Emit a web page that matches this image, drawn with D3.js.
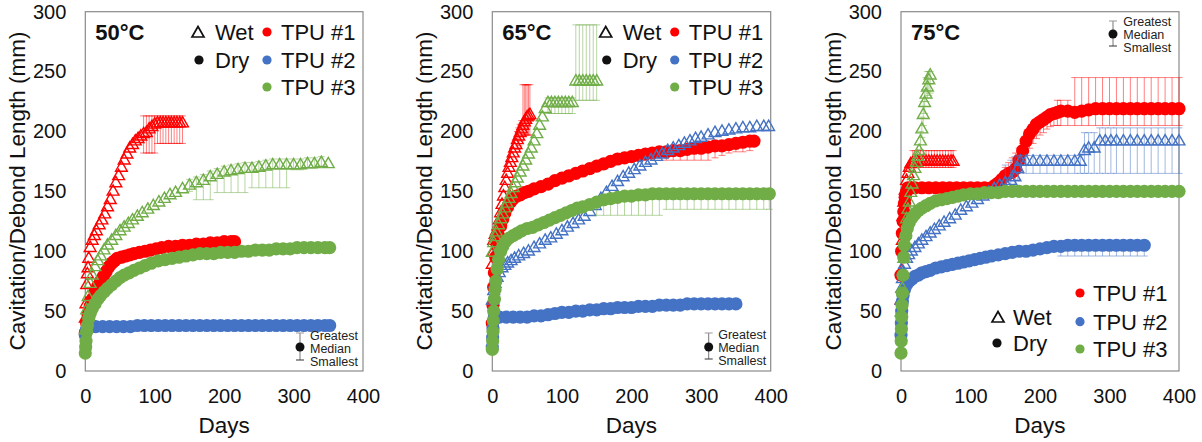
<!DOCTYPE html>
<html>
<head>
<meta charset="utf-8">
<script src="https://cdn.jsdelivr.net/npm/d3@7"></script>
<style>
  html, body { margin: 0; padding: 0; background: #fff; }
  svg { display: block; }
</style>
</head>
<body>
<svg id="chart" width="1202" height="442"></svg>
<script>
// ---------------------------------------------------------------
// Cavitation / debond length of three TPU grades aged wet and dry
// at 50, 65 and 75 °C. Markers show the median specimen; error
// bars span the greatest and smallest specimen where they are wider
// than the marker.
// ---------------------------------------------------------------

const yTicks = [0, 50, 100, 150, 200, 250, 300];
const xTicks = [0, 100, 200, 300, 400];
const tpuNames = ["TPU #1", "TPU #2", "TPU #3"];
const conditionNames = ["Wet", "Dry"];
const rangeNames = ["Greatest", "Median", "Smallest"];
const panelTitles = ["50°C", "65°C", "75°C"];

// ----- 50 °C -----
const d50_tpu1_wet_days = [0,1,2,3,4,5,7,10,13,16,20,24,28,32,36,40,44,48,52,56,60,64,68,72,76,80,84,88,92,96,100,104,108,112,116,120,124,128,132,136,140];
const d50_tpu1_wet_median = [45,57,73,82,87,95,104,110,114,118,123,127,132,138,144,151,158,164,171,177,182,187,190,193,195,197,199,200,203,205,207,208,208,208,208,208,208,208,208,208,208];
const d50_tpu1_wet_errDays = [84,88,92,96,100,104,108,112,116,120,124,128,132,136,140];
const d50_tpu1_wet_greatest = [213,213,213,213,213,213,213,213,213,213,213,213,213,213,213];
const d50_tpu1_wet_smallest = [182,182,182,182,182,190,190,190,190,190,190,190,190,190,190];

const d50_tpu1_dry_days = [0,2,4,7,10,14,18,22,26,30,34,38,42,46,52,58,64,70,78,86,94,102,110,120,130,140,150,160,170,180,190,200,210,215];
const d50_tpu1_dry_median = [32,40,47,54,60,66,71,75,79,83,87,90,92,94,95,96,97,98,99,100,101,102,103,104,104,105,105,106,106,107,107,108,108,108];

const d50_tpu2_dry_days = [0,1,2,4,8,15,25,35,45,55,65,75,85,95,105,115,125,135,145,155,165,175,185,195,205,215,225,235,245,255,265,275,285,295,305,315,325,335,345,352];
const d50_tpu2_dry_median = [30,33,35,36,37,37,37,37,37,37,37,38,38,38,38,38,38,38,38,38,38,38,38,38,38,38,38,38,38,38,38,38,38,38,38,38,38,38,38,38];

const d50_tpu3_wet_days = [0,2,4,7,10,14,18,22,27,32,38,44,50,56,62,68,75,82,90,98,106,114,122,130,140,150,160,170,180,190,200,210,220,230,240,250,260,270,280,290,300,310,320,330,340,350];
const d50_tpu3_wet_median = [35,52,63,74,81,88,93,97,102,106,110,114,118,121,124,127,130,133,136,139,142,145,148,150,153,156,158,160,163,165,167,168,169,170,170,171,172,173,173,173,173,173,174,174,175,174];
const d50_tpu3_wet_errDays = [150,160,170,180,190,200,210,220,230,240,250,260,270,280,290,300,310,320,330,340];
const d50_tpu3_wet_greatest = [160,162,164,167,169,171,172,173,174,174,175,176,177,177,177,177,177,178,178,179];
const d50_tpu3_wet_smallest = [150,143,143,143,149,149,149,149,149,153,153,153,153,153,153,168,168,169,169,170];

const d50_tpu3_dry_days = [0,0.5,1,2,3,5,7,10,14,18,22,27,32,38,44,50,56,63,70,78,86,95,105,115,125,135,145,155,165,175,185,195,205,215,225,235,245,255,265,275,285,295,305,315,325,335,345,352];
const d50_tpu3_dry_median = [15,20,25,33,38,44,48,52,56,60,63,66,69,72,75,78,80,82,84,86,88,90,92,93,94,95,96,97,98,98,98,99,99,99,100,100,101,101,101,102,102,102,103,103,103,103,103,103];

// ----- 65 °C -----
const d65_tpu1_wet_days = [0,1,2,4,6,8,10,12,14,16,18,20,22,24,26,28,30,32,34,36,38,40,42,44,46,48,50,52,54];
const d65_tpu1_wet_median = [90,100,110,115,118,122,127,133,140,147,154,160,166,171,175,179,183,187,190,194,197,200,203,206,209,211,213,214,215];
const d65_tpu1_wet_errDays = [36,38,40,42,44,46,48,50,52,54];
const d65_tpu1_wet_greatest = [200,203,206,209,239,239,239,239,239,239];
const d65_tpu1_wet_smallest = [185,188,192,196,197,197,197,197,197,197];

const d65_tpu1_dry_days = [0,1,2,3,5,7,9,12,15,18,22,26,30,35,40,46,52,60,70,80,90,100,110,120,130,140,150,160,170,180,190,200,210,220,230,240,250,260,270,280,290,300,310,320,330,340,350,360,370,376];
const d65_tpu1_dry_median = [40,55,70,82,95,105,113,121,127,132,137,141,144,146,147,149,150,152,154,156,159,161,163,165,167,169,171,173,175,177,178,179,180,181,182,183,183,184,184,185,186,186,187,188,188,189,190,191,192,192];
const d65_tpu1_dry_errDays = [250,260,270,280,290,300,310,320,330,340,350,360,370];
const d65_tpu1_dry_greatest = [186,187,187,188,189,189,190,191,191,192,193,194,195];
const d65_tpu1_dry_smallest = [176,176,176,176,176,176,176,178,180,182,183,183,184];

const d65_tpu2_wet_days = [0,2,4,7,10,14,18,22,27,32,38,45,52,60,68,76,84,92,100,108,116,124,132,140,148,156,164,172,180,188,196,204,212,220,228,236,244,252,260,268,276,284,292,300,310,320,330,340,350,360,370,380,390,397];
const d65_tpu2_wet_median = [60,68,74,79,83,87,89,91,93,95,97,99,101,104,107,110,112,115,118,121,124,127,130,134,139,145,150,155,159,163,166,169,172,175,177,180,182,185,187,189,191,193,195,196,198,200,201,202,203,204,204,205,205,205];

const d65_tpu2_dry_days = [0,0.5,1,2,3,10,20,30,40,50,60,70,80,90,100,110,120,130,140,150,160,170,180,190,200,210,220,230,240,250,260,270,280,290,300,310,320,330,340,350];
const d65_tpu2_dry_median = [20,28,36,42,45,45,45,45,45,45,46,46,47,48,49,49,50,50,51,51,52,52,53,53,53,54,54,54,55,55,55,55,56,56,56,56,56,56,56,56];

const d65_tpu3_wet_days = [0,2,4,6,9,12,15,18,21,24,27,30,33,36,40,44,48,52,56,60,64,68,72,76,80,85,90,95,100,105,110,115,120,125,130,135,140,145,150];
const d65_tpu3_wet_median = [100,108,113,117,123,128,132,137,141,145,149,154,158,162,167,172,177,182,187,193,199,206,213,220,225,225,225,225,225,225,225,225,243,243,243,243,243,243,243];
const d65_tpu3_wet_errDays = [80,85,90,95,100,105,110,115,120,125,130,135,140,145,150];
const d65_tpu3_wet_greatest = [228,228,228,228,228,228,228,228,289,289,289,289,289,289,289];
const d65_tpu3_wet_smallest = [215,215,215,215,215,215,215,215,226,226,226,226,226,226,226];

const d65_tpu3_dry_days = [0,0.5,1,1.5,2,3,4,5,7,9,12,15,19,24,30,36,42,50,58,66,74,82,90,98,106,114,122,130,140,150,160,170,180,190,200,210,220,230,240,250,260,270,280,290,300,310,320,330,340,350,360,370,380,390,398];
const d65_tpu3_dry_median = [18,25,33,42,50,60,68,75,85,93,100,104,108,111,113,115,117,119,120,122,124,126,128,130,132,134,136,137,139,141,143,144,145,146,146,147,147,148,148,148,148,148,148,148,148,148,148,148,148,148,148,148,148,148,148];
const d65_tpu3_dry_errDays = [150,160,170,180,190,200,210,220,230,240,250,260,270,280,290,300,310,320,330,340,350,360,370,380,390,398];
const d65_tpu3_dry_greatest = [144,146,147,148,149,149,150,150,151,151,151,151,151,151,151,151,151,151,151,151,151,151,151,151,151,151];
const d65_tpu3_dry_smallest = [130,130,130,130,130,130,130,130,130,130,135,135,135,135,135,135,135,135,135,135,135,135,135,135,135,135];

// ----- 75 °C -----
const d75_tpu1_wet_days = [0,1,2,3,4,6,8,10,12,14,17,20,24,28,32,36,40,44,48,52,56,60,64,68,72,75];
const d75_tpu1_wet_median = [60,85,110,130,142,152,160,166,171,174,175,176,176,176,176,176,176,176,176,176,176,176,176,176,176,176];
const d75_tpu1_wet_errDays = [17,20,24,28,32,36,40,44,48,52,56,60,64,68,72,75];
const d75_tpu1_wet_greatest = [184,184,184,184,184,184,184,184,184,184,184,184,184,184,184,184];
const d75_tpu1_wet_smallest = [170,170,170,170,170,170,170,170,170,170,170,170,170,170,170,170];

const d75_tpu1_dry_days = [0,1,2,3,4,5,6,8,10,15,20,30,40,50,60,70,80,90,100,110,120,130,135,140,145,150,155,160,165,170,175,180,185,190,195,200,205,210,215,220,225,230,240,250,260,270,280,290,300,310,320,330,340,350,360,370,380,390,400];
const d75_tpu1_dry_median = [80,100,115,125,133,140,145,150,153,153,153,153,153,153,153,153,153,153,153,153,153,153,155,157,160,163,165,166,169,176,184,192,198,202,206,208,210,212,214,215,216,217,217,216,217,218,219,219,219,219,219,219,219,219,219,219,219,219,219];
const d75_tpu1_dry_errDays = [150,155,160,165,170,175,180,185,190,195,200,205,210,215,220,225,230,240,250,260,270,280,290,300,310,320,330,340,350,360,370,380,390,400];
const d75_tpu1_dry_greatest = [170,174,178,182,186,190,194,198,202,206,210,212,215,217,219,226,226,226,245,245,245,245,245,245,245,245,245,245,245,245,245,245,245,245];
const d75_tpu1_dry_smallest = [158,160,161,163,168,174,180,186,190,194,197,199,202,204,205,205,205,205,205,205,205,205,205,205,205,205,205,205,205,205,205,205,205,205];

const d75_tpu2_wet_days = [0,1,2,3,5,8,11,15,20,25,30,36,42,48,55,62,70,78,86,94,102,110,118,126,134,142,150,158,164,168,172,180,190,200,210,220,230,240,250,258,264,270,278,286,294,302,310,320,330,340,350,360,370,380,390,400];
const d75_tpu2_wet_median = [60,70,78,84,90,95,98,101,104,107,110,113,116,119,122,125,128,131,135,138,141,144,147,150,153,156,158,160,163,170,176,176,176,176,176,176,176,176,176,176,185,187,187,193,193,193,193,193,193,193,193,193,193,193,193,193];
const d75_tpu2_wet_errDays = [150,158,164,168,172,180,190,200,210,220,230,240,250,258,264,270,278,286,294,302,310,320,330,340,350,360,370,380,390,400];
const d75_tpu2_wet_greatest = [172,176,179,180,180,180,180,180,180,180,180,180,180,180,199,199,199,203,203,203,203,203,203,203,203,203,203,203,203,203];
const d75_tpu2_wet_smallest = [150,152,155,160,165,165,165,165,165,165,165,165,165,165,165,165,165,165,165,165,165,165,165,165,165,165,165,165,165,165];

const d75_tpu2_dry_days = [0,0.5,1,2,3,5,8,12,16,20,25,30,36,42,50,58,66,74,82,90,98,106,114,122,130,140,150,160,170,180,190,200,210,220,230,240,250,260,270,280,290,300,310,320,330,340,350];
const d75_tpu2_dry_median = [30,40,50,58,63,68,72,75,77,79,80,82,83,84,86,87,88,89,90,91,92,93,94,95,96,97,98,99,100,100,101,102,103,104,104,105,105,105,105,105,105,105,105,105,105,105,105];
const d75_tpu2_dry_errDays = [230,240,250,260,270,280,290,300,310,320,330,340,350];
const d75_tpu2_dry_greatest = [107,107,107,107,107,107,107,107,107,107,107,107,107];
const d75_tpu2_dry_smallest = [96,96,96,96,96,96,96,96,96,96,96,96,96];

const d75_tpu3_wet_days = [0,2,4,6,8,10,12,14,16,18,20,22,24,26,28,30,32,34,36,38,40,42];
const d75_tpu3_wet_median = [50,70,95,115,128,136,142,150,157,164,170,175,180,185,193,203,215,225,232,238,244,248];
const d75_tpu3_wet_errDays = [28,30,32,34,36,38,40,42];
const d75_tpu3_wet_greatest = [200,212,225,235,245,250,250,250];
const d75_tpu3_wet_smallest = [185,195,205,215,225,228,230,232];

const d75_tpu3_dry_days = [0,0.3,0.6,1,1.5,2,3,4,5,7,9,12,16,20,25,30,36,42,50,58,66,74,82,90,100,110,120,130,140,150,160,170,180,190,200,210,220,230,240,250,260,270,280,290,300,310,320,330,340,350,360,370,380,390,400];
const d75_tpu3_dry_median = [15,25,35,45,55,65,80,95,105,113,119,124,128,131,134,136,138,140,142,143,144,145,146,147,148,148,149,149,149,150,150,150,150,150,150,150,150,150,150,150,150,150,150,150,150,150,150,150,150,150,150,150,150,150,150];

// ---------------------------------------------------------------
const FONT = '"Liberation Sans", Arial, Helvetica, sans-serif';
const COLORS = { 1: "#FF0000", 2: "#4472C4", 3: "#70AD47" };
const PLOT_TOP = 11.7, PLOT_BOTTOM = 371;
const TRI = "M0,-5.3 L5.9,5 L-5.9,5 Z";

function series(tpu, type, days, median, errDays, greatest, smallest) {
  return { tpu, type, days, median, errDays, greatest, smallest };
}

const panels = [
  {
    title: panelTitles[0], left: 85.3, right: 363, legend: "top",
    note: { dotDx: -63, dotY: 347, capTop: 333, capBottom: 360, textDx: -53, rows: [335, 348, 361.5] },
    series: [
      series(1, "wet", d50_tpu1_wet_days, d50_tpu1_wet_median, d50_tpu1_wet_errDays, d50_tpu1_wet_greatest, d50_tpu1_wet_smallest),
      series(1, "dry", d50_tpu1_dry_days, d50_tpu1_dry_median),
      series(2, "dry", d50_tpu2_dry_days, d50_tpu2_dry_median),
      series(3, "wet", d50_tpu3_wet_days, d50_tpu3_wet_median, d50_tpu3_wet_errDays, d50_tpu3_wet_greatest, d50_tpu3_wet_smallest),
      series(3, "dry", d50_tpu3_dry_days, d50_tpu3_dry_median)
    ]
  },
  {
    title: panelTitles[1], left: 492.3, right: 770.7, legend: "top",
    note: { dotDx: -62, dotY: 347, capTop: 333, capBottom: 359, textDx: -52.5, rows: [334, 347, 360] },
    series: [
      series(1, "wet", d65_tpu1_wet_days, d65_tpu1_wet_median, d65_tpu1_wet_errDays, d65_tpu1_wet_greatest, d65_tpu1_wet_smallest),
      series(1, "dry", d65_tpu1_dry_days, d65_tpu1_dry_median, d65_tpu1_dry_errDays, d65_tpu1_dry_greatest, d65_tpu1_dry_smallest),
      series(2, "wet", d65_tpu2_wet_days, d65_tpu2_wet_median),
      series(2, "dry", d65_tpu2_dry_days, d65_tpu2_dry_median),
      series(3, "wet", d65_tpu3_wet_days, d65_tpu3_wet_median, d65_tpu3_wet_errDays, d65_tpu3_wet_greatest, d65_tpu3_wet_smallest),
      series(3, "dry", d65_tpu3_dry_days, d65_tpu3_dry_median, d65_tpu3_dry_errDays, d65_tpu3_dry_greatest, d65_tpu3_dry_smallest)
    ]
  },
  {
    title: panelTitles[2], left: 901, right: 1179, legend: "bottom",
    note: { dotDx: -66, dotY: 34, capTop: 21, capBottom: 46, textDx: -55.7, rows: [21, 34, 47] },
    series: [
      series(1, "wet", d75_tpu1_wet_days, d75_tpu1_wet_median, d75_tpu1_wet_errDays, d75_tpu1_wet_greatest, d75_tpu1_wet_smallest),
      series(1, "dry", d75_tpu1_dry_days, d75_tpu1_dry_median, d75_tpu1_dry_errDays, d75_tpu1_dry_greatest, d75_tpu1_dry_smallest),
      series(2, "wet", d75_tpu2_wet_days, d75_tpu2_wet_median, d75_tpu2_wet_errDays, d75_tpu2_wet_greatest, d75_tpu2_wet_smallest),
      series(2, "dry", d75_tpu2_dry_days, d75_tpu2_dry_median, d75_tpu2_dry_errDays, d75_tpu2_dry_greatest, d75_tpu2_dry_smallest),
      series(3, "wet", d75_tpu3_wet_days, d75_tpu3_wet_median, d75_tpu3_wet_errDays, d75_tpu3_wet_greatest, d75_tpu3_wet_smallest),
      series(3, "dry", d75_tpu3_dry_days, d75_tpu3_dry_median)
    ]
  }
];

const svg = d3.select("#chart").attr("font-family", FONT);

panels.forEach(p => {
  const x = d3.scaleLinear().domain([0, 400]).range([p.left, p.right]);
  const y = d3.scaleLinear().domain([0, 300]).range([PLOT_BOTTOM, PLOT_TOP]);
  const g = svg.append("g");

  // plot frame
  g.append("rect")
    .attr("x", p.left).attr("y", PLOT_TOP)
    .attr("width", p.right - p.left).attr("height", PLOT_BOTTOM - PLOT_TOP)
    .attr("fill", "none").attr("stroke", "#8a8a8a").attr("stroke-width", 1.2);

  // axes (labels only, no ticks or domain line)
  const yAxis = g.append("g").attr("transform", `translate(${p.left},0)`)
    .call(d3.axisLeft(y).tickValues(yTicks).tickSize(0).tickPadding(19));
  const xAxis = g.append("g").attr("transform", `translate(0,${PLOT_BOTTOM})`)
    .call(d3.axisBottom(x).tickValues(xTicks).tickSize(0).tickPadding(17.5));
  [yAxis, xAxis].forEach(a => {
    a.select(".domain").remove();
    a.attr("font-size", 20).attr("font-family", FONT);
    a.selectAll("text").attr("fill", "#111");
  });

  // axis titles
  g.append("text")
    .attr("transform", `translate(${p.left - 60},191) rotate(-90)`)
    .attr("text-anchor", "middle").attr("font-size", 22.5).attr("fill", "#111")
    .text("Cavitation/Debond Length (mm)");
  g.append("text")
    .attr("x", (p.left + p.right) / 2).attr("y", 433)
    .attr("text-anchor", "middle").attr("font-size", 22.5).attr("fill", "#111")
    .text("Days");

  // data series
  p.series.forEach(s => {
    const col = COLORS[s.tpu];
    const sg = g.append("g");
    if (s.errDays) {
      const bars = s.errDays.map((d, i) => ({ d, hi: s.greatest[i], lo: s.smallest[i] }));
      const eg = sg.append("g").attr("stroke", col).attr("stroke-opacity", 0.5).attr("stroke-width", 1);
      eg.selectAll("line.v").data(bars).join("line").attr("class", "v")
        .attr("x1", b => x(b.d)).attr("x2", b => x(b.d))
        .attr("y1", b => y(b.hi)).attr("y2", b => y(b.lo));
      eg.selectAll("line.hi").data(bars).join("line").attr("class", "hi")
        .attr("x1", b => x(b.d) - 3.5).attr("x2", b => x(b.d) + 3.5)
        .attr("y1", b => y(b.hi)).attr("y2", b => y(b.hi));
      eg.selectAll("line.lo").data(bars).join("line").attr("class", "lo")
        .attr("x1", b => x(b.d) - 3.5).attr("x2", b => x(b.d) + 3.5)
        .attr("y1", b => y(b.lo)).attr("y2", b => y(b.lo));
    }
    const pts = s.days.map((d, i) => ({ d, v: s.median[i] }));
    if (s.type === "dry") {
      sg.selectAll("circle").data(pts).join("circle")
        .attr("cx", q => x(q.d)).attr("cy", q => y(q.v)).attr("r", 6.6)
        .attr("fill", col);
    } else {
      sg.selectAll("path").data(pts).join("path")
        .attr("d", TRI)
        .attr("transform", q => `translate(${x(q.d)},${y(q.v)})`)
        .attr("fill", "none").attr("stroke", col).attr("stroke-width", 1.4);
    }
  });

  // panel title
  g.append("text").attr("x", p.left + 10).attr("y", 40)
    .attr("font-size", 22).attr("font-weight", "bold").attr("fill", "#111")
    .text(p.title);

  // legend: wet / dry markers and TPU colours
  const lg = g.append("g").attr("font-size", 22).attr("fill", "#111");
  let tpuRows, condPos;
  if (p.legend === "top") {
    tpuRows = [32, 60, 87].map(cy => ({ cy, dotX: p.right - 96, textX: p.right - 82 }));
    condPos = [
      { mx: p.right - 165, cy: 32, tx: p.right - 148 },
      { mx: p.right - 164, cy: 60, tx: p.right - 148 }
    ];
  } else {
    tpuRows = [293, 321.7, 349].map(cy => ({ cy, dotX: p.right - 99, textX: p.right - 86 }));
    condPos = [
      { mx: p.right - 181, cy: 317, tx: p.right - 166 },
      { mx: p.right - 182, cy: 343, tx: p.right - 166 }
    ];
  }
  tpuRows.forEach((r, i) => {
    lg.append("circle").attr("cx", r.dotX).attr("cy", r.cy).attr("r", 4.6).attr("fill", COLORS[i + 1]);
    lg.append("text").attr("x", r.textX).attr("y", r.cy + 7.8).text(tpuNames[i]);
  });
  lg.append("path").attr("d", "M0,-5.5 L6,5 L-6,5 Z")
    .attr("transform", `translate(${condPos[0].mx},${condPos[0].cy})`)
    .attr("fill", "none").attr("stroke", "#111").attr("stroke-width", 1.7);
  lg.append("text").attr("x", condPos[0].tx).attr("y", condPos[0].cy + 7.8).text(conditionNames[0]);
  lg.append("circle").attr("cx", condPos[1].mx).attr("cy", condPos[1].cy).attr("r", 4.6).attr("fill", "#111");
  lg.append("text").attr("x", condPos[1].tx).attr("y", condPos[1].cy + 7.8).text(conditionNames[1]);

  // greatest / median / smallest key
  const n = p.note;
  const ng = g.append("g");
  const nx = p.right + n.dotDx;
  ng.append("line").attr("x1", nx).attr("x2", nx).attr("y1", n.capTop).attr("y2", n.capBottom)
    .attr("stroke", "#777").attr("stroke-width", 1);
  ng.append("line").attr("x1", nx - 4).attr("x2", nx + 4).attr("y1", n.capTop).attr("y2", n.capTop)
    .attr("stroke", "#999").attr("stroke-width", 1);
  ng.append("line").attr("x1", nx - 4).attr("x2", nx + 4).attr("y1", n.capBottom).attr("y2", n.capBottom)
    .attr("stroke", "#333").attr("stroke-width", 1);
  ng.append("circle").attr("cx", nx).attr("cy", n.dotY).attr("r", 4.5).attr("fill", "#111");
  n.rows.forEach((ry, i) => {
    ng.append("text").attr("x", p.right + n.textDx).attr("y", ry + 4.5)
      .attr("font-size", 12.5).attr("fill", "#222").text(rangeNames[i]);
  });
});
</script>
</body>
</html>
